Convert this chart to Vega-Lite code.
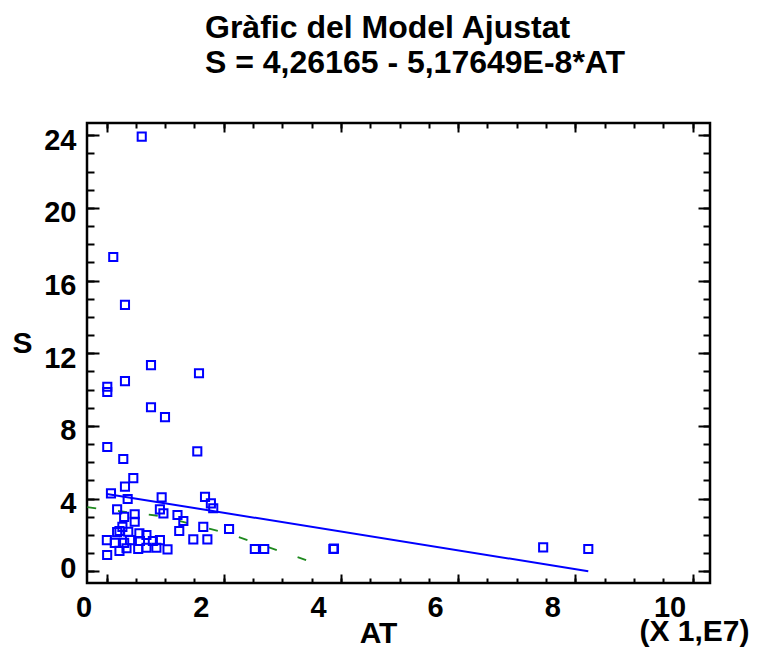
{
  "$schema": "https://vega.github.io/schema/vega-lite/v6.json",
  "width": 623,
  "height": 460,
  "autosize": {"type": "none"},
  "padding": {"left": 87, "top": 123, "right": 53, "bottom": 66},
  "background": "white",
  "config": {
    "view": {"stroke": "black", "strokeWidth": 2.5},
    "font": "Liberation Sans",
    "axis": {
      "grid": false,
      "domain": false,
      "tickColor": "black",
      "tickWidth": 2,
      "labelFont": "Liberation Sans",
      "labelFontWeight": "bold",
      "labelFontSize": 29,
      "labelColor": "black",
      "titleFont": "Liberation Sans",
      "titleFontWeight": "bold",
      "titleFontSize": 30,
      "titleColor": "black"
    }
  },
  "title": {
    "text": ["Gràfic del Model Ajustat", "S = 4,26165 - 5,17649E-8*AT"],
    "anchor": "start",
    "align": "left",
    "frame": "group",
    "dx": 118,
    "offset": 42,
    "fontSize": 32,
    "font": "Liberation Sans",
    "fontWeight": "bold",
    "color": "black",
    "lineHeight": 35
  },
  "datasets": {
    "points": [
      {"AT": 6000000, "S": 23.92}, {"AT": 1140000, "S": 17.30}, {"AT": 3140000, "S": 14.66},
      {"AT": 7580000, "S": 11.35}, {"AT": 15770000, "S": 10.90}, {"AT": 3140000, "S": 10.47},
      {"AT": 120000, "S": 10.16}, {"AT": 120000, "S": 9.87}, {"AT": 7580000, "S": 9.03},
      {"AT": 9970000, "S": 8.49}, {"AT": 120000, "S": 6.84}, {"AT": 15480000, "S": 6.60},
      {"AT": 2850000, "S": 6.18}, {"AT": 4560000, "S": 5.13}, {"AT": 3140000, "S": 4.66},
      {"AT": 750000, "S": 4.29}, {"AT": 3600000, "S": 3.98}, {"AT": 9400000, "S": 4.07},
      {"AT": 16800000, "S": 4.10}, {"AT": 17800000, "S": 3.74}, {"AT": 18200000, "S": 3.47},
      {"AT": 9100000, "S": 3.41}, {"AT": 9700000, "S": 3.19}, {"AT": 1800000, "S": 3.41},
      {"AT": 4800000, "S": 3.14}, {"AT": 3000000, "S": 3.00}, {"AT": 12100000, "S": 3.10},
      {"AT": 13100000, "S": 2.77}, {"AT": 4800000, "S": 2.73}, {"AT": 2700000, "S": 2.45},
      {"AT": 16500000, "S": 2.45}, {"AT": 20900000, "S": 2.33}, {"AT": 12400000, "S": 2.22},
      {"AT": 2200000, "S": 2.22}, {"AT": 1800000, "S": 2.16}, {"AT": 3700000, "S": 2.18},
      {"AT": 5600000, "S": 2.09}, {"AT": 6800000, "S": 2.00}, {"AT": 50000, "S": 1.72},
      {"AT": 1400000, "S": 1.57}, {"AT": 3000000, "S": 1.57}, {"AT": 4000000, "S": 1.72},
      {"AT": 5700000, "S": 1.67}, {"AT": 7900000, "S": 1.67}, {"AT": 9100000, "S": 1.72},
      {"AT": 14800000, "S": 1.76}, {"AT": 17200000, "S": 1.76}, {"AT": 2200000, "S": 1.13},
      {"AT": 3400000, "S": 1.27}, {"AT": 5400000, "S": 1.23}, {"AT": 6800000, "S": 1.30},
      {"AT": 8500000, "S": 1.30}, {"AT": 10400000, "S": 1.21}, {"AT": 100000, "S": 0.90},
      {"AT": 25300000, "S": 1.23}, {"AT": 26900000, "S": 1.23}, {"AT": 38700000, "S": 1.23},
      {"AT": 38800000, "S": 1.25}, {"AT": 74500000, "S": 1.32}, {"AT": 82200000, "S": 1.23}
    ],
    "fit": [
      {"AT": 50000, "S": 4.2591},
      {"AT": 82200000, "S": 0.0066}
    ],
    "band": [
      {"AT": -3300000, "S": 3.53},
      {"AT": 2500000, "S": 3.30},
      {"AT": 9000000, "S": 3.05},
      {"AT": 14000000, "S": 2.65},
      {"AT": 21000000, "S": 2.05},
      {"AT": 27000000, "S": 1.40},
      {"AT": 35700000, "S": 0.44}
    ]
  },
  "layer": [
    {
      "data": {"name": "band"},
      "mark": {"type": "line", "color": "#1f8a1f", "strokeWidth": 1.8, "strokeDash": [9, 22], "clip": true},
      "encoding": {
        "x": {
          "field": "AT", "type": "quantitative",
          "scale": {"domain": [-3340000, 102970000], "nice": false, "zero": false},
          "axis": {"orient": "top", "values": [0, 20000000, 40000000, 60000000, 80000000, 100000000], "tickSize": -9, "labels": false, "title": null}
        },
        "y": {
          "field": "S", "type": "quantitative",
          "scale": {"domain": [-0.64, 24.67], "nice": false, "zero": false},
          "axis": {"orient": "right", "values": [0, 4, 8, 12, 16, 20, 24], "tickSize": -12, "labels": false, "title": null}
        }
      }
    },
    {
      "data": {"name": "fit"},
      "mark": {"type": "line", "color": "#0000ff", "strokeWidth": 2},
      "encoding": {
        "x": {
          "field": "AT", "type": "quantitative",
          "scale": {"domain": [-3340000, 102970000], "nice": false, "zero": false},
          "axis": {
            "orient": "bottom",
            "values": [0, 5000000, 10000000, 15000000, 20000000, 25000000, 30000000, 35000000, 40000000, 45000000, 50000000, 55000000, 60000000, 65000000, 70000000, 75000000, 80000000, 85000000, 90000000, 95000000, 100000000],
            "tickSize": -5, "labels": false,
            "title": "(X 1,E7)", "titleX": 607, "titleY": 57, "titleAlign": "center", "titleBaseline": "alphabetic"
          }
        },
        "y": {
          "field": "S", "type": "quantitative",
          "scale": {"domain": [-0.64, 24.67], "nice": false, "zero": false},
          "axis": {
            "orient": "left",
            "values": [0, 1, 2, 3, 4, 5, 6, 7, 8, 9, 10, 11, 12, 13, 14, 15, 16, 17, 18, 19, 20, 21, 22, 23, 24],
            "tickSize": -7, "labels": false, "title": null
          }
        }
      }
    },
    {
      "data": {"name": "points"},
      "mark": {"type": "point", "shape": "square", "filled": false, "color": "#0000ff", "size": 66, "strokeWidth": 2, "opacity": 1},
      "encoding": {
        "x": {
          "field": "AT", "type": "quantitative",
          "scale": {"domain": [-3340000, 102970000], "nice": false, "zero": false},
          "axis": {
            "orient": "bottom",
            "values": [0, 20000000, 40000000, 60000000, 80000000, 100000000],
            "labelExpr": "'' + (datum.value / 10000000)",
            "tickSize": -9, "labelPadding": 19, "labelOffset": -23,
            "labelBaseline": "top", "labelAlign": "center", "labelFlush": false, "labelOverlap": false,
            "title": "AT", "titleX": 291, "titleY": 59, "titleAlign": "center", "titleBaseline": "alphabetic"
          }
        },
        "y": {
          "field": "S", "type": "quantitative",
          "scale": {"domain": [-0.64, 24.67], "nice": false, "zero": false},
          "axis": {
            "orient": "left",
            "values": [0, 4, 8, 12, 16, 20, 24],
            "tickSize": -12, "labelPadding": 23,
            "labelOffset": {"condition": {"test": "datum.value === 0", "value": -3}, "value": 5},
            "labelFlush": false, "labelOverlap": false,
            "title": "S", "titleAngle": 0, "titleX": -65, "titleY": 229, "titleAlign": "center", "titleBaseline": "alphabetic"
          }
        }
      }
    },
    {
      "data": {"name": "fit"},
      "mark": {"type": "point", "opacity": 0},
      "encoding": {
        "x": {
          "field": "AT", "type": "quantitative",
          "scale": {"domain": [-3340000, 102970000], "nice": false, "zero": false},
          "axis": {
            "orient": "top",
            "values": [0, 5000000, 10000000, 15000000, 20000000, 25000000, 30000000, 35000000, 40000000, 45000000, 50000000, 55000000, 60000000, 65000000, 70000000, 75000000, 80000000, 85000000, 90000000, 95000000, 100000000],
            "tickSize": -5, "labels": false, "title": null
          }
        },
        "y": {
          "field": "S", "type": "quantitative",
          "scale": {"domain": [-0.64, 24.67], "nice": false, "zero": false},
          "axis": {
            "orient": "right",
            "values": [0, 1, 2, 3, 4, 5, 6, 7, 8, 9, 10, 11, 12, 13, 14, 15, 16, 17, 18, 19, 20, 21, 22, 23, 24],
            "tickSize": -7, "labels": false, "title": null
          }
        }
      }
    }
  ],
  "resolve": {"axis": {"x": "independent", "y": "independent"}}
}
